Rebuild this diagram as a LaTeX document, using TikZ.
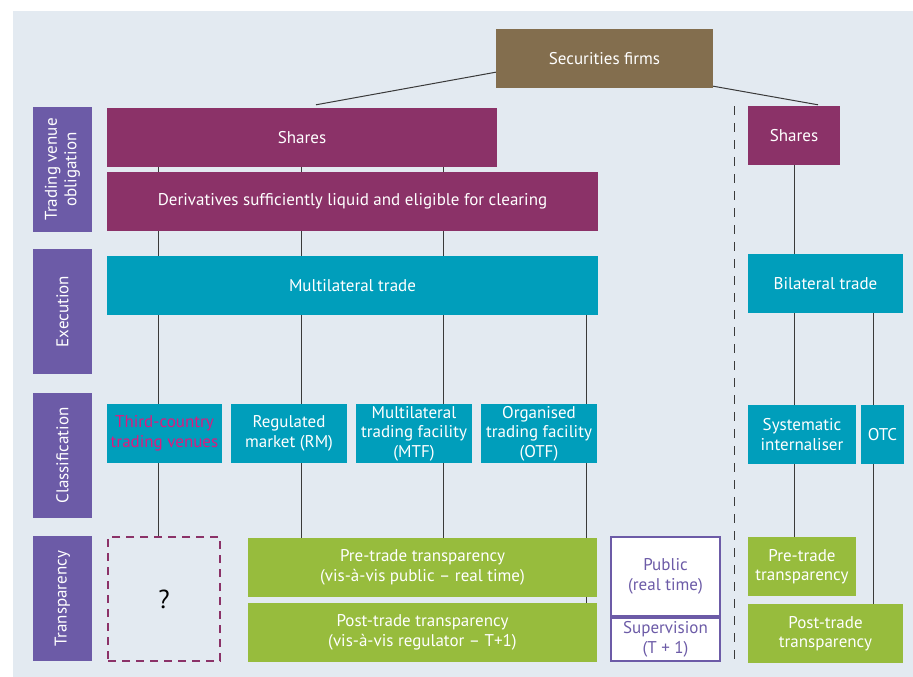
\documentclass[tikz,border=0pt]{standalone}
\usepackage{fontspec}
\setmainfont{PT Sans}
\usetikzlibrary{backgrounds}

\definecolor{panel}{HTML}{E3EAF1}
\definecolor{firmbrown}{HTML}{836E4E}
\definecolor{plum}{HTML}{8B3268}
\definecolor{venueteal}{HTML}{009EBB}
\definecolor{transgreen}{HTML}{97BC3D}
\definecolor{levelpurple}{HTML}{6C5BA7}
\definecolor{thirdpink}{HTML}{DD1A7F}
\definecolor{linegray}{HTML}{3A3A3A}

\tikzset{
    box/.style={inner sep=1pt, align=center, text=white, font=\fontsize{17}{19.5}\selectfont},
    firmbox/.style={box, fill=firmbrown},
    obligbox/.style={box, fill=plum},
    tradebox/.style={box, fill=venueteal},
    transbox/.style={box, fill=transgreen},
    levelbox/.style={box, fill=levelpurple, rotate=90, minimum width=125pt, minimum height=59pt},
    regimebox/.style={box, draw=levelpurple, line width=2pt, fill=white, text=levelpurple},
    unknownbox/.style={box, draw=plum, line width=2pt, dash pattern=on 8pt off 6pt, text=black},
    link/.style={draw=linegray, line width=1pt},
    divider/.style={draw=linegray, line width=1pt, dash pattern=on 9pt off 8pt}
}

\begin{document}
\begin{tikzpicture}[x=1pt, y=-1pt]
    \useasboundingbox (0,0) rectangle (913,677);

    \node[levelbox] (tvo) at (62.5,169.5) {Trading venue\\obligation};
    \node[levelbox] (exe) at (62.5,311.5) {Execution};
    \node[levelbox] (cls) at (62.5,455.5) {Classification};
    \node[levelbox] (trn) at (62.5,598.5) {Transparency};

    \node[firmbox, minimum width=217pt, minimum height=59pt] (firms) at (604.5,58.5) {Securities firms};

    \node[obligbox, minimum width=390pt, minimum height=59pt] (sharesL) at (302,137.5) {Shares};
    \node[obligbox, minimum width=491pt, minimum height=59pt] (deriv) at (352.5,201.5) {Derivatives sufficiently liquid and eligible for clearing};
    \node[obligbox, minimum width=92pt, minimum height=59pt] (sharesR) at (794,135.5) {Shares};

    \node[tradebox, minimum width=491pt, minimum height=59pt] (multi) at (352.5,285.5) {Multilateral trade};
    \node[tradebox, minimum width=155pt, minimum height=59pt] (bilat) at (825.5,283.5) {Bilateral trade};

    \node[tradebox, text=thirdpink, minimum width=115pt, minimum height=59pt] (tcv) at (164.5,433.5) {Third-country\\trading venues};
    \node[tradebox, minimum width=116pt, minimum height=59pt] (rm) at (289,433.5) {Regulated\\market (RM)};
    \node[tradebox, minimum width=116pt, minimum height=59pt] (mtf) at (414,433.5) {Multilateral\\trading facility\\(MTF)};
    \node[tradebox, minimum width=116pt, minimum height=59pt] (otf) at (539,433.5) {Organised\\trading facility\\(OTF)};
    \node[tradebox, minimum width=108pt, minimum height=59pt] (si) at (802,434.5) {Systematic\\internaliser};
    \node[tradebox, minimum width=43pt, minimum height=59pt] (otc) at (882.5,434.5) {OTC};

    \node[unknownbox, minimum width=112pt, minimum height=124pt, font=\fontsize{26}{28}\selectfont] (qbox) at (164,599) {?};
    \node[transbox, minimum width=349pt, minimum height=59pt] (preL) at (422.5,567.5) {Pre-trade transparency\\(vis-à-vis public – real time)};
    \node[transbox, minimum width=349pt, minimum height=59pt] (postL) at (422.5,632.5) {Post-trade transparency\\(vis-à-vis regulator – T+1)};
    \node[regimebox, minimum width=109pt, minimum height=79pt] (pub) at (665.5,576.5) {Public\\(real time)};
    \node[regimebox, minimum width=109pt, minimum height=43pt] (sup) at (665.5,639.5) {Supervision\\(T + 1)};
    \node[transbox, minimum width=108pt, minimum height=59pt] (preR) at (802,566.5) {Pre-trade\\transparency};
    \node[transbox, minimum width=155pt, minimum height=59pt] (postR) at (825.5,633.5) {Post-trade\\transparency};

    \coordinate (c1) at (158,0);
    \coordinate (c2) at (301,0);
    \coordinate (c3) at (443,0);
    \coordinate (c4) at (586,0);
    \coordinate (c5) at (794,0);
    \coordinate (c6) at (873,0);
    \coordinate (divtop) at (734,106);
    \coordinate (divbot) at (734,662);

    \begin{pgfonlayer}{background}
        \fill[panel] (13,11) rectangle (913,677);
        \draw[link] ([yshift=16pt]firms.south west) -- ([xshift=14pt,yshift=3pt]sharesL.north);
        \draw[link] ([yshift=2pt]firms.south east) -- ([xshift=24pt,yshift=1pt]sharesR.north);
        \draw[link] (sharesL.south -| c1) -- (qbox.north -| c1);
        \draw[link] (sharesL.south -| c2) -- (preL.north -| c2);
        \draw[link] (sharesL.south -| c3) -- (preL.north -| c3);
        \draw[link] (multi.south -| c4) -- (postL.north -| c4);
        \draw[link] (sharesR.south -| c5) -- (preR.north -| c5);
        \draw[link] (bilat.south -| c6) -- (postR.north -| c6);
        \draw[divider] (divtop) -- (divbot);
    \end{pgfonlayer}
\end{tikzpicture}
\end{document}
